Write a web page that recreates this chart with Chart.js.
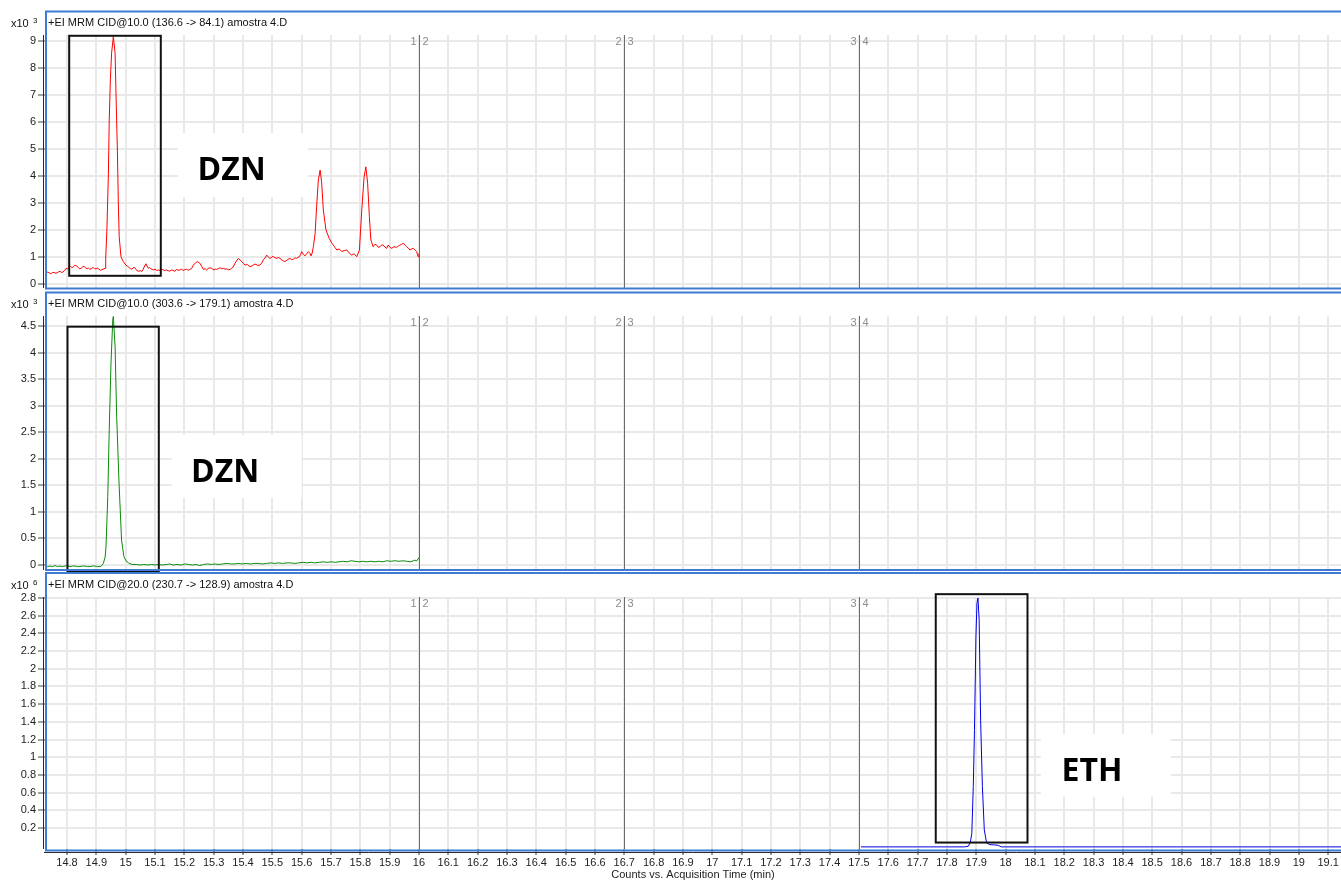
<!DOCTYPE html>
<html>
<head>
<meta charset="utf-8">
<script src="https://cdn.jsdelivr.net/npm/chart.js@4.4.0/dist/chart.umd.min.js"></script>
<style>
  html, body { margin: 0; padding: 0; background: #fff; overflow: hidden; width: 1341px; height: 882px; }
  canvas { position: absolute; left: 0; display: block; }
</style>
</head>
<body>
<canvas id="p1" width="1341" height="291" style="top:0px"></canvas>
<canvas id="p2" width="1341" height="281" style="top:291px"></canvas>
<canvas id="p3" width="1341" height="310" style="top:572px"></canvas>
<script>
// ---- acquisition time axis (min) ----
const timeTicks = [14.8, 14.9, 15, 15.1, 15.2, 15.3, 15.4, 15.5, 15.6, 15.7, 15.8, 15.9, 16,
  16.1, 16.2, 16.3, 16.4, 16.5, 16.6, 16.7, 16.8, 16.9, 17, 17.1, 17.2, 17.3, 17.4, 17.5,
  17.6, 17.7, 17.8, 17.9, 18, 18.1, 18.2, 18.3, 18.4, 18.5, 18.6, 18.7, 18.8, 18.9, 19, 19.1];
const segmentBreaks = [16, 16.7, 17.5];
const segmentNames = ['1', '2', '3', '4'];

// ---- MRM 136.6 -> 84.1 (counts x10^3) ----
const dznQuantTime = [14.725, 14.730, 14.735, 14.740, 14.745, 14.750, 14.756, 14.761, 14.766, 14.771,
  14.776, 14.781, 14.786, 14.792, 14.797, 14.802, 14.807, 14.812, 14.817, 14.822,
  14.827, 14.833, 14.838, 14.843, 14.848, 14.853, 14.858, 14.863, 14.868, 14.873, 14.878, 14.884,
  14.889, 14.894, 14.899, 14.904, 14.909, 14.914, 14.919, 14.926, 14.930,
  14.932, 14.936, 14.941, 14.944, 14.948, 14.952, 14.958, 14.964, 14.968, 14.972, 14.975, 14.978,
  14.984, 14.992, 15.001, 15.006, 15.011, 15.016, 15.021, 15.028, 15.033, 15.038, 15.045, 15.050,
  15.055, 15.060, 15.066, 15.069, 15.077, 15.081, 15.086, 15.090, 15.094, 15.100, 15.106, 15.112,
  15.117, 15.122, 15.127, 15.133, 15.140, 15.145, 15.151, 15.157, 15.162, 15.168, 15.173, 15.179,
  15.185, 15.190, 15.196, 15.201, 15.207, 15.213, 15.219, 15.225, 15.231, 15.238, 15.244, 15.253,
  15.259, 15.265, 15.271, 15.276, 15.284, 15.293, 15.301, 15.306, 15.310, 15.316, 15.322, 15.328,
  15.333, 15.339, 15.345, 15.350, 15.356, 15.361, 15.366, 15.373, 15.384, 15.396, 15.402, 15.407,
  15.415, 15.424, 15.432, 15.441, 15.450, 15.458, 15.464, 15.469, 15.475, 15.481, 15.487, 15.492,
  15.497, 15.503, 15.509, 15.515, 15.520, 15.526, 15.535, 15.543, 15.552, 15.560, 15.566, 15.572,
  15.578, 15.583, 15.591, 15.596, 15.600, 15.606, 15.611, 15.617, 15.623, 15.628, 15.632, 15.636,
  15.640, 15.646, 15.651, 15.657, 15.663, 15.668, 15.674, 15.683, 15.694, 15.701, 15.708, 15.714,
  15.720, 15.728, 15.737, 15.745, 15.754, 15.762, 15.771, 15.779, 15.788, 15.797, 15.805, 15.813,
  15.819, 15.825, 15.831, 15.836, 15.844, 15.850, 15.856, 15.861, 15.867, 15.873, 15.878, 15.884,
  15.890, 15.895, 15.901, 15.907, 15.915, 15.924, 15.930, 15.935, 15.941, 15.947, 15.952, 15.958,
  15.964, 15.969, 15.975, 15.981, 15.987, 15.992, 15.997, 16.000];
const dznQuantCounts = [0.40, 0.43, 0.44, 0.41, 0.38, 0.42, 0.43, 0.40, 0.41, 0.45,
  0.47, 0.43, 0.44, 0.50, 0.58, 0.55, 0.63, 0.66, 0.60, 0.64,
  0.70, 0.66, 0.62, 0.56, 0.58, 0.63, 0.66, 0.60, 0.57, 0.59, 0.54, 0.58,
  0.61, 0.57, 0.56, 0.59, 0.55, 0.51, 0.53, 0.56, 0.58,
  0.96, 2.00, 4.00, 6.07, 7.60, 8.55, 9.16, 8.55, 6.60, 4.85, 3.00, 1.75,
  1.01, 0.83, 0.70, 0.66, 0.62, 0.57, 0.55, 0.62, 0.58, 0.50, 0.47, 0.50,
  0.46, 0.55, 0.70, 0.75, 0.58, 0.61, 0.57, 0.54, 0.52, 0.55, 0.50, 0.52,
  0.50, 0.54, 0.53, 0.50, 0.52, 0.49, 0.48, 0.52, 0.50, 0.47, 0.54, 0.51,
  0.52, 0.55, 0.50, 0.53, 0.55, 0.51, 0.54, 0.58, 0.70, 0.78, 0.83, 0.77,
  0.66, 0.54, 0.57, 0.52, 0.60, 0.58, 0.52, 0.55, 0.54, 0.57, 0.60, 0.56,
  0.58, 0.55, 0.56, 0.53, 0.54, 0.58, 0.62, 0.77, 0.95, 0.83, 0.76, 0.70,
  0.72, 0.64, 0.68, 0.74, 0.69, 0.70, 0.78, 0.89, 0.96, 1.07, 0.99, 0.95,
  0.98, 1.03, 0.97, 0.95, 0.98, 0.95, 0.87, 0.83, 0.90, 0.95, 0.90, 0.92,
  0.97, 0.95, 1.00, 1.08, 1.20, 1.10, 1.04, 1.12, 1.20, 1.14, 1.04, 1.15,
  1.38, 1.88, 2.86, 3.85, 4.22, 3.79, 2.74, 2.00, 1.69, 1.55, 1.44, 1.35,
  1.26, 1.30, 1.20, 1.24, 1.26, 1.15, 1.07, 1.12, 1.01, 1.26, 2.74, 3.97,
  4.34, 3.73, 2.49, 1.63, 1.38, 1.47, 1.44, 1.36, 1.38, 1.45, 1.44, 1.37,
  1.32, 1.44, 1.36, 1.32, 1.38, 1.36, 1.41, 1.44, 1.47, 1.51, 1.44, 1.38,
  1.33, 1.26, 1.30, 1.32, 1.25, 1.20, 1.01, 1.13];

// ---- MRM 303.6 -> 179.1 (counts x10^3) ----
const dznQualTime = [14.725, 14.734, 14.742, 14.751, 14.759, 14.768, 14.776, 14.785, 14.793, 14.802,
  14.810, 14.819, 14.827, 14.836, 14.844, 14.853, 14.861, 14.870, 14.878, 14.887, 14.895, 14.904,
  14.913, 14.919, 14.924, 14.930, 14.933, 14.939, 14.944, 14.950, 14.956, 14.958, 14.964, 14.969,
  14.977, 14.986, 14.994, 15.001, 15.009, 15.022, 15.038, 15.050, 15.062, 15.075, 15.088, 15.100,
  15.113, 15.125, 15.140, 15.150, 15.162, 15.175, 15.190, 15.203, 15.215, 15.228, 15.240, 15.252,
  15.265, 15.280, 15.292, 15.305, 15.318, 15.330, 15.345, 15.358, 15.370, 15.385, 15.398, 15.412,
  15.425, 15.440, 15.452, 15.467, 15.480, 15.495, 15.508, 15.522, 15.535, 15.550, 15.563, 15.577,
  15.590, 15.605, 15.618, 15.632, 15.645, 15.660, 15.673, 15.687, 15.700, 15.715, 15.728, 15.742,
  15.755, 15.768, 15.782, 15.795, 15.808, 15.822, 15.836, 15.850, 15.863, 15.877, 15.890, 15.904,
  15.918, 15.932, 15.945, 15.958, 15.972, 15.985, 15.993, 16.000];
const dznQualCounts = [-0.02, -0.03, -0.02, -0.03, -0.01, -0.03, -0.02, -0.03, -0.02, -0.01,
  -0.03, -0.02, -0.02, -0.03, -0.03, -0.02, -0.02, -0.03, -0.03, -0.02, -0.02, -0.03,
  -0.03, -0.01, 0.03, 0.15, 0.34, 1.29, 2.54, 3.80, 4.61, 4.68, 4.11, 2.86,
  1.60, 0.47, 0.16, 0.08, 0.04, 0.01, 0.01, 0.00, 0.01, 0.00, 0.01, 0.00,
  0.01, 0.00, 0.01, 0.02, 0.00, 0.01, 0.00, 0.02, 0.01, 0.00, 0.01, -0.01,
  0.01, 0.02, 0.01, 0.02, 0.01, 0.02, 0.03, 0.02, 0.02, 0.03, 0.02, 0.03,
  0.02, 0.03, 0.03, 0.02, 0.03, 0.04, 0.03, 0.04, 0.03, 0.04, 0.04, 0.03,
  0.04, 0.05, 0.04, 0.05, 0.04, 0.05, 0.06, 0.05, 0.06, 0.05, 0.06, 0.07,
  0.06, 0.08, 0.07, 0.06, 0.07, 0.06, 0.07, 0.06, 0.07, 0.06, 0.08, 0.07,
  0.08, 0.07, 0.08, 0.07, 0.06, 0.09, 0.08, 0.14];

// ---- MRM 230.7 -> 128.9 (counts x10^6) ----
const ethTime = [17.507, 17.600, 17.700, 17.800, 17.860, 17.873, 17.880, 17.885, 17.890, 17.894,
  17.899, 17.9025, 17.906, 17.910, 17.915, 17.921, 17.9275, 17.9355, 17.947, 17.960, 17.975,
  17.985, 18.200, 18.600, 19.000, 19.144];
const ethCounts = [-0.013, -0.013, -0.013, -0.013, -0.013, -0.006, 0.04, 0.14, 0.67, 1.30,
  2.36, 2.74, 2.80, 2.55, 1.42, 0.67, 0.18, 0.03, 0.012, 0.010, 0.005,
  -0.013, -0.013, -0.013, -0.013, -0.013];

// ---- intensity tick labels ----
const countTicksA = [0, 1, 2, 3, 4, 5, 6, 7, 8, 9];
const countTicksB = [0, 0.5, 1, 1.5, 2, 2.5, 3, 3.5, 4, 4.5];
const countTicksC = [0.2, 0.4, 0.6, 0.8, 1, 1.2, 1.4, 1.6, 1.8, 2, 2.2, 2.4, 2.6, 2.8];

const panelTitles = [
  '+EI MRM CID@10.0 (136.6 -> 84.1) amostra 4.D',
  '+EI MRM CID@10.0 (303.6 -> 179.1) amostra 4.D',
  '+EI MRM CID@20.0 (230.7 -> 128.9) amostra 4.D'
];
const panelExponents = ['3', '3', '6'];
const peakNames = ['DZN', 'DZN', 'ETH'];
const timeAxisTitle = 'Counts vs. Acquisition Time (min)';

const BASE_FONT = '"Liberation Sans", Arial, sans-serif';
const GRID = '#e9e9e9';
const FRAME = '#3f7bd2';
Chart.defaults.font.family = BASE_FONT;
Chart.defaults.font.size = 11;
Chart.defaults.color = '#222';

function makePanel(id, o) {
  const decor = {
    id: 'decor',
    beforeDatasetsDraw(chart) {
      const { ctx, chartArea: a, scales: { x, y } } = chart;
      ctx.save();
      // white plate behind the compound name
      const p = o.plate;
      const px0 = x.getPixelForValue(p.t0), px1 = x.getPixelForValue(p.t1);
      const py0 = y.getPixelForValue(p.c1), py1 = y.getPixelForValue(p.c0);
      ctx.fillStyle = '#fff';
      ctx.fillRect(px0, py0, px1 - px0, py1 - py0);
      ctx.fillStyle = '#000';
      ctx.font = 'bold 32px "Open Sans", sans-serif';
      ctx.textAlign = 'left';
      ctx.textBaseline = 'alphabetic';
      ctx.fillText(o.name, x.getPixelForValue(p.textT), y.getPixelForValue(p.textC));
      // time segment dividers
      ctx.font = '11px ' + BASE_FONT;
      ctx.textBaseline = 'middle';
      segmentBreaks.forEach((t, i) => {
        const sx = Math.round(x.getPixelForValue(t)) + 0.5;
        ctx.strokeStyle = '#6b6b6b';
        ctx.lineWidth = 1;
        ctx.beginPath();
        ctx.moveTo(sx, a.top);
        ctx.lineTo(sx, a.bottom);
        ctx.stroke();
        ctx.fillStyle = '#8c8c8c';
        ctx.textAlign = 'right';
        ctx.fillText(segmentNames[i], sx - 3, a.top + 7);
        ctx.textAlign = 'left';
        ctx.fillText(segmentNames[i + 1], sx + 3, a.top + 7);
      });
      ctx.restore();
    },
    afterDraw(chart) {
      const { ctx, chartArea: a, scales: { x, y }, width: W } = chart;
      ctx.save();
      // integration window
      const w = o.window;
      const wx0 = x.getPixelForValue(w.t0), wx1 = x.getPixelForValue(w.t1);
      const wy0 = y.getPixelForValue(w.c1), wy1 = y.getPixelForValue(w.c0);
      ctx.strokeStyle = '#111';
      ctx.lineWidth = 2;
      ctx.strokeRect(wx0, wy0, wx1 - wx0, wy1 - wy0);
      // intensity axis line
      ctx.strokeStyle = '#2a2a2a';
      ctx.lineWidth = 1;
      ctx.beginPath();
      ctx.moveTo(a.left - 1.5, a.top);
      ctx.lineTo(a.left - 1.5, a.bottom);
      ctx.stroke();
      // time axis line under the last panel
      if (o.showTime) {
        ctx.beginPath();
        ctx.moveTo(a.left - 1, o.frameBottom + 2);
        ctx.lineTo(W, o.frameBottom + 2);
        ctx.stroke();
      }
      // panel frame
      ctx.strokeStyle = FRAME;
      ctx.lineWidth = 2;
      ctx.beginPath();
      ctx.moveTo(W + 2, o.frameTop);
      ctx.lineTo(a.left + 1, o.frameTop);
      ctx.lineTo(a.left + 1, o.frameBottom);
      ctx.lineTo(W + 2, o.frameBottom);
      ctx.stroke();
      // panel caption and intensity multiplier
      ctx.fillStyle = '#111';
      ctx.textAlign = 'left';
      ctx.textBaseline = 'middle';
      ctx.font = '11px ' + BASE_FONT;
      ctx.fillText(o.title, 48, o.frameTop + 11.5);
      ctx.fillText('x10', 11, o.frameTop + 12.5);
      ctx.font = '8px ' + BASE_FONT;
      ctx.fillText(o.exp, 33, o.frameTop + 9.5);
      ctx.restore();
    }
  };

  const fixTicks = (values) => (scale) => { scale.ticks = values.map(v => ({ value: v })); };
  const zeroPad = (scale) => {
    scale.paddingTop = 0; scale.paddingBottom = 0; scale.paddingLeft = 0; scale.paddingRight = 0;
  };

  return new Chart(document.getElementById(id), {
    type: 'line',
    data: {
      datasets: [{
        data: o.times.map((t, i) => ({ x: t, y: o.counts[i] })),
        borderColor: o.color,
        borderWidth: 1,
        pointRadius: 0,
        fill: false,
        tension: 0
      }]
    },
    options: {
      responsive: false,
      devicePixelRatio: 1,
      animation: false,
      events: [],
      layout: { padding: { top: o.padTop, bottom: o.padBottom, left: 0, right: 0 } },
      plugins: { legend: { display: false }, tooltip: { enabled: false }, title: { display: false } },
      scales: {
        x: {
          type: 'linear',
          position: 'bottom',
          min: 14.725,
          max: 19.1437,
          afterBuildTicks: fixTicks(timeTicks),
          afterFit: (s) => { zeroPad(s); s.height = o.showTime ? 33 : 0; },
          border: { display: false },
          grid: { color: GRID, lineWidth: 2, drawTicks: o.showTime, tickLength: 6, tickColor: '#333', tickWidth: 1 },
          ticks: { display: o.showTime, padding: 1, maxRotation: 0, autoSkip: false, color: '#222',
                   callback: (v) => String(v) },
          title: { display: o.showTime, text: timeAxisTitle, padding: 0, color: '#222', font: { size: 11 } }
        },
        y: {
          type: 'linear',
          position: 'left',
          min: o.yMin,
          max: o.yMax,
          afterBuildTicks: fixTicks(o.yTicks),
          afterFit: (s) => { zeroPad(s); s.width = 45; },
          border: { display: false },
          grid: { color: GRID, lineWidth: 2, drawTicks: true, tickLength: 7, tickColor: '#444', tickWidth: 1 },
          ticks: { padding: 2, autoSkip: false, color: '#222', callback: (v) => String(v) }
        }
      }
    },
    plugins: [decor]
  });
}

makePanel('p1', {
  times: dznQuantTime, counts: dznQuantCounts, color: '#ff0000',
  yMin: -0.148, yMax: 9.222, yTicks: countTicksA,
  padTop: 35, padBottom: 3, frameTop: 11.5, frameBottom: 288.5, showTime: false,
  title: panelTitles[0], exp: panelExponents[0], name: peakNames[0],
  window: { t0: 14.8075, t1: 15.1198, c0: 0.304, c1: 9.193 },
  plate: { t0: 15.178, t1: 15.622, c0: 3.22, c1: 5.59, textT: 15.245, textC: 3.852 }
});

makePanel('p2', {
  times: dznQualTime, counts: dznQualCounts, color: '#0a8a0a',
  yMin: -0.094, yMax: 4.688, yTicks: countTicksB,
  padTop: 25, padBottom: 2, frameTop: 1.5, frameBottom: 279, showTime: false,
  title: panelTitles[1], exp: panelExponents[1], name: peakNames[1],
  window: { t0: 14.8017, t1: 15.113, c0: -0.126, c1: 4.487 },
  plate: { t0: 15.157, t1: 15.600, c0: 1.262, c1: 2.448, textT: 15.2228, textC: 1.563 }
});

makePanel('p3', {
  times: ethTime, counts: ethCounts, color: '#0000e6',
  yMin: -0.037, yMax: 2.811, yTicks: countTicksC,
  padTop: 25, padBottom: 0, frameTop: 1, frameBottom: 278.5, showTime: true,
  title: panelTitles[2], exp: panelExponents[2], name: peakNames[2],
  window: { t0: 17.762, t1: 18.0748, c0: 0.036, c1: 2.843 },
  plate: { t0: 18.120, t1: 18.563, c0: 0.554, c1: 1.263, textT: 18.1908, textC: 0.735 }
});
</script>
</body>
</html>
